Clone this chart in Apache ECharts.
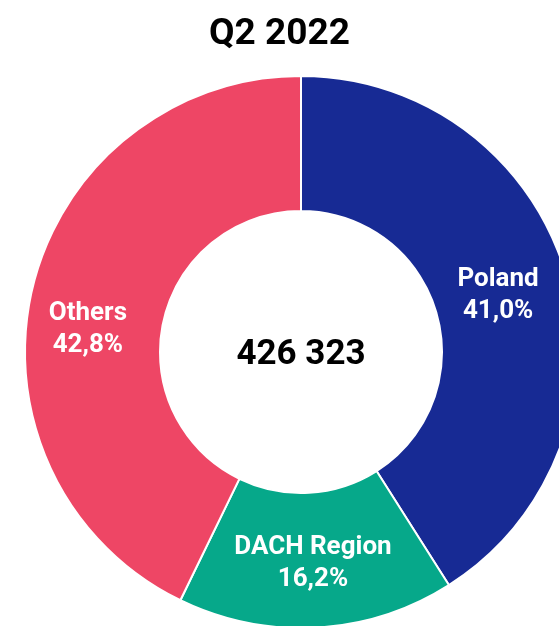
<!DOCTYPE html>
<html>
<head>
<meta charset="utf-8">
<script src="https://cdn.jsdelivr.net/npm/echarts@6/dist/echarts.min.js"></script>
<style>
  html, body { margin: 0; padding: 0; background: #fff; }
  #donut { width: 559px; height: 626px; }
</style>
</head>
<body>
<div id="donut"></div>
<script>
// data
var regions = ['Poland', 'DACH Region', 'Others'];
var shares = [41.0, 16.2, 42.8];
var colors = ['#172A94', '#06A88A', '#EE4665'];
var total = 426323;
var period = 'Q2 2022';

// nudge labels to where the original put them
var labelShift = [[-6, 3], [0, 0], [-7, 25]];

var donutChart = echarts.init(document.getElementById('donut'));

var pieData = regions.map(function (name, i) {
    return {
        name: name,
        value: shares[i],
        itemStyle: { color: colors[i] },
        label: { offset: labelShift[i] }
    };
});

var option = {
    animation: false,
    title: [
        {
            text: period,
            left: 'center',
            top: 11,
            textStyle: { fontFamily: 'Roboto', fontWeight: 'bold', fontSize: 37, color: '#000' }
        },
        {
            text: String(total).replace(/\B(?=(\d{3})+(?!\d))/g, ' '),
            left: 296,
            top: 350,
            textAlign: 'center',
            textVerticalAlign: 'middle',
            textStyle: { fontFamily: 'Roboto', fontWeight: 'bold', fontSize: 35, color: '#000' }
        }
    ],
    series: [
        {
            name: period,
            type: 'pie',
            center: [301, 352],
            radius: [141, 276],
            startAngle: 90,
            clockwise: true,
            itemStyle: { borderColor: '#fff', borderWidth: 2 },
            label: {
                show: true,
                position: 'inside',
                color: '#fff',
                fontFamily: 'Roboto',
                fontWeight: 'bold',
                fontSize: 26,
                lineHeight: 32,
                formatter: function (p) {
                    return p.name + '\n' + p.value.toFixed(1).replace('.', ',') + '%';
                }
            },
            labelLine: { show: false },
            data: pieData
        }
    ]
};

donutChart.setOption(option);
</script>
</body>
</html>
